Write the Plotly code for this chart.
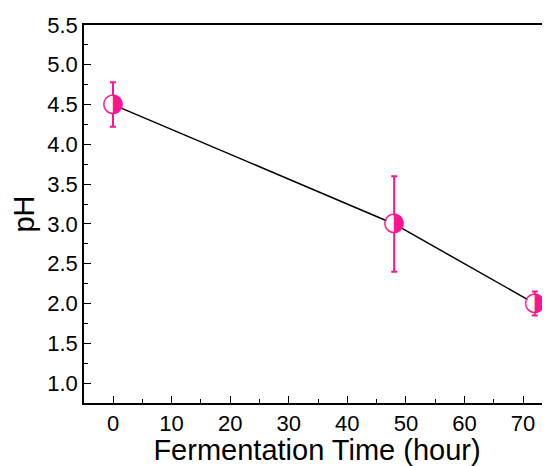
import plotly.graph_objects as go

time_h = [0, 48, 72]
ph = [4.5, 3.0, 2.0]
ph_err = [0.28, 0.6, 0.15]

pink = "#FF1490"
font = "Liberation Sans, Arial, sans-serif"

fig = go.Figure()
fig.add_trace(go.Scatter(
    x=time_h, y=ph, mode="lines+markers",
    line=dict(color="black", width=1.5),
    marker=dict(symbol="circle", size=17, color="white", line=dict(width=0)),
    error_y=dict(type="data", array=ph_err, color=pink, thickness=2, width=3),
    showlegend=False, cliponaxis=False,
))
fig.add_trace(go.Scatter(
    x=time_h, y=ph, mode="text", text=["◑"] * len(time_h),
    textposition="middle center",
    textfont=dict(color=pink, size=26, family="DejaVu Sans"),
    showlegend=False, cliponaxis=False,
))

# page body has an 8px margin, so the figure is offset by 8px
fig.update_layout(
    width=542, height=458,
    margin=dict(l=76, r=0, t=17, b=63),
    plot_bgcolor="white", paper_bgcolor="white",
    font=dict(family=font, color="black"),
)
fig.update_xaxes(
    range=[-4.95, 74.6], tickvals=[0, 10, 20, 30, 40, 50, 60, 70],
    ticks="inside", ticklen=7, tickwidth=1.2, tickcolor="black",
    minor=dict(ticks="inside", ticklen=4, tickwidth=1.2, tickcolor="black", dtick=5),
    showline=True, linecolor="black", linewidth=1.5, mirror=True,
    showgrid=False, zeroline=False, automargin=False,
    tickfont=dict(size=22, family=font),
    title=dict(text="Fermentation Time (hour)", font=dict(size=29, family=font), standoff=2),
)
fig.update_yaxes(
    range=[0.75, 5.5], tickvals=[1.0, 1.5, 2.0, 2.5, 3.0, 3.5, 4.0, 4.5, 5.0, 5.5],
    tickformat=".1f",
    ticks="inside", ticklen=7, tickwidth=1.2, tickcolor="black",
    minor=dict(ticks="inside", ticklen=4, tickwidth=1.2, tickcolor="black", dtick=0.25),
    showline=True, linecolor="black", linewidth=1.5, mirror=True,
    showgrid=False, zeroline=False, automargin=False,
    tickfont=dict(size=22, family=font),
    title=dict(text="pH", font=dict(size=29, family=font), standoff=6),
)

fig.write_html("out.html")
